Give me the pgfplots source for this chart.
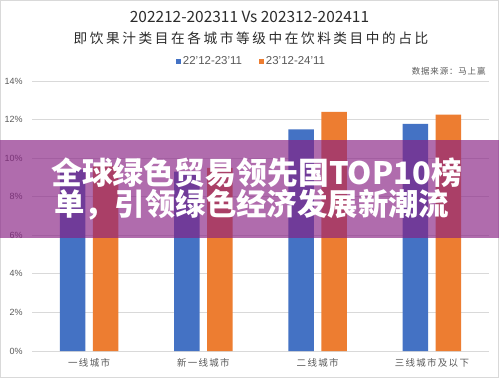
\documentclass[border=0pt]{standalone}
\usepackage{pgfplots}
\pgfplotsset{compat=1.18}
\usepackage{fontspec}
\setmainfont{Liberation Sans}
\newfontfamily\cjk{Noto Sans CJK SC}
\newfontfamily\cjktitle[LetterSpace=19]{Noto Sans CJK SC}
\newfontfamily\cjkcat[LetterSpace=14]{Noto Sans CJK SC}
\newfontfamily\cjksrc[LetterSpace=10]{Noto Sans CJK SC}
\definecolor{blueC}{HTML}{4472C4}
\definecolor{orangeC}{HTML}{ED7D31}
\definecolor{gridc}{HTML}{D9D9D9}
\definecolor{textc}{HTML}{595959}
\definecolor{titlec}{HTML}{2B2B2B}
\definecolor{bannerc}{RGB}{136,32,132}
\begin{document}
\begin{tikzpicture}[x=1bp,y=1bp]
\useasboundingbox (0,0) rectangle (499,378);
\fill[white] (0,0) rectangle (499,378);
\draw[gridc, line width=1bp] (0.5,0.5) rectangle (498.5,377.5);
\begin{axis}[
  at={(32bp,27bp)}, anchor=south west,
  scale only axis, width=457bp, height=270bp,
  xmin=-0.5, xmax=3.5, ymin=0, ymax=14,
  ytick={0,2,4,6,8,10,12,14},
  yticklabel={\pgfmathprintnumber{\tick}\%},
  /pgf/number format/assume math mode=true,
  ymajorgrids, grid style={draw=gridc, line width=0.8bp},
  axis lines*=left,
  x axis line style={draw=gridc, line width=0.8bp, -},
  y axis line style={draw=none},
  major tick length=0pt,
  xtick={0,1,2,3},
  xticklabels={一线城市,新一线城市,二线城市,三线城市及以下},
  xticklabel style={font=\cjkcat\fontsize{9.5}{10}\selectfont, text=textc, yshift=-4bp},
  yticklabel style={font=\fontsize{9}{10}\selectfont, text=textc, xshift=-6bp},
  legend columns=2,
  legend style={at={(0.5,1)}, anchor=south, xshift=-9bp, yshift=11bp, draw=none, fill=none,
    font=\fontsize{11.5}{12}\selectfont, text=textc,
    /tikz/every even column/.append style={column sep=15bp}},
]
\addplot[ybar, bar width=25.5bp, bar shift=-16.5bp, fill=blueC, draw=none,
  legend image code/.code={\fill[blueC] (0bp,-2.5bp) rectangle (5bp,2.5bp);}]
  coordinates {(0,9.4) (1,9.3) (2,11.49) (3,11.78)};
\addlegendentry{22'12-23'11}
\addplot[ybar, bar width=25.5bp, bar shift=16.5bp, fill=orangeC, draw=none,
  legend image code/.code={\fill[orangeC] (0bp,-2.5bp) rectangle (5bp,2.5bp);}]
  coordinates {(0,9.6) (1,9.5) (2,12.4) (3,12.26)};
\addlegendentry{23'12-24'11}
\end{axis}
\node[text=titlec, font=\cjk\fontsize{15.5}{16}\selectfont] at (249.5,361) {202212-202311 Vs 202312-202411};
\node[text=titlec, font=\cjktitle\fontsize{13.7}{14}\selectfont] at (251,340) {即饮果汁类目在各城市等级中在饮料类目中的占比};
\node[text=textc, font=\cjksrc\fontsize{8.5}{9}\selectfont, anchor=east] at (489,307) {数据来源：马上赢};
% overlay banner
\fill[bannerc, fill opacity=0.66] (0,140) rectangle (499,238);
\node[text=white, font=\cjk\bfseries\fontsize{31}{32}\selectfont, anchor=west, inner sep=0pt] at (51,205) {全球绿色贸易领先国TOP10榜};
\node[text=white, font=\cjk\bfseries\fontsize{30.5}{32}\selectfont, anchor=west, inner sep=0pt] at (54,173) {单，引领绿色经济发展新潮流};
\end{tikzpicture}
\end{document}
